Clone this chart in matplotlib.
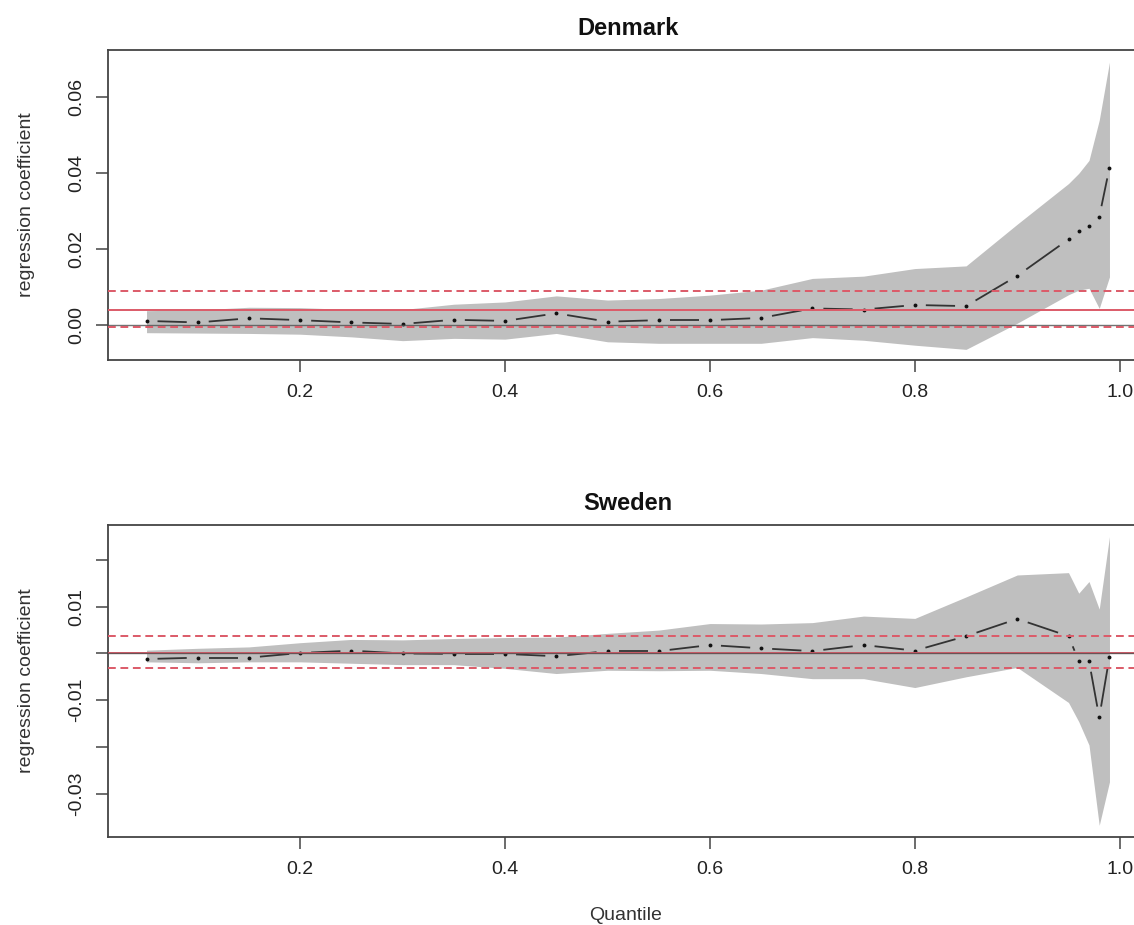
import matplotlib
matplotlib.use('Agg')
import matplotlib.pyplot as plt
import numpy as np

plt.rcParams['font.family'] = ['Liberation Sans', 'DejaVu Sans']

# quantiles used in both panels
taus = [0.05, 0.10, 0.15, 0.20, 0.25, 0.30, 0.35, 0.40, 0.45, 0.50, 0.55, 0.60,
        0.65, 0.70, 0.75, 0.80, 0.85, 0.90, 0.95, 0.96, 0.97, 0.98, 0.99]

# Denmark: quantile coefficients and confidence band
dk_coef = [0.0011, 0.0007, 0.0018, 0.0013, 0.0007, 0.0003, 0.0014, 0.0011, 0.0031,
           0.0009, 0.0013, 0.0013, 0.0019, 0.0044, 0.0041, 0.0053, 0.0050, 0.0130,
           0.0226, 0.0247, 0.0260, 0.0285, 0.0415]
dk_upper = [0.0038, 0.0040, 0.0047, 0.0046, 0.0041, 0.0041, 0.0055, 0.0061, 0.0077,
            0.0066, 0.0070, 0.0079, 0.0092, 0.0123, 0.0129, 0.0149, 0.0156, 0.0266,
            0.0373, 0.0400, 0.0434, 0.0540, 0.0693]
dk_lower = [-0.0020, -0.0021, -0.0022, -0.0024, -0.0031, -0.0041, -0.0035, -0.0037,
            -0.0022, -0.0044, -0.0048, -0.0048, -0.0048, -0.0033, -0.0040, -0.0053,
            -0.0064, 0.0005, 0.0080, 0.0092, 0.0097, 0.0044, 0.0127]
dk_ols = 0.0041
dk_ols_ci = [-0.0004, 0.0090]

# Sweden
se_coef = [-0.0012, -0.0009, -0.0009, 0.0001, 0.0006, 0.0000, -0.0001, -0.0001, -0.0006,
           0.0005, 0.0005, 0.0018, 0.0011, 0.0005, 0.0018, 0.0006, 0.0037, 0.0074,
           0.0037, -0.0016, -0.0016, -0.0137, -0.0007]
se_upper = [0.0007, 0.0011, 0.0014, 0.0023, 0.0030, 0.0029, 0.0032, 0.0034, 0.0035,
            0.0043, 0.0050, 0.0064, 0.0063, 0.0066, 0.0080, 0.0075, 0.0121, 0.0168,
            0.0173, 0.0129, 0.0154, 0.0095, 0.0250]
se_lower = [-0.0018, -0.0020, -0.0018, -0.0018, -0.0021, -0.0024, -0.0024, -0.0032,
            -0.0043, -0.0036, -0.0037, -0.0036, -0.0043, -0.0054, -0.0054, -0.0073,
            -0.0050, -0.0030, -0.0105, -0.0146, -0.0196, -0.0368, -0.0275]
se_ols = 0.0002
se_ols_ci = [-0.0032, 0.0038]

x_ticks = [0.2, 0.4, 0.6, 0.8, 1.0]
x_labels = ['0.2', '0.4', '0.6', '0.8', '1.0']
dk_yticks = [0.00, 0.02, 0.04, 0.06]
dk_ylabels = ['0.00', '0.02', '0.04', '0.06']
se_yticks = [-0.03, -0.02, -0.01, 0.00, 0.01, 0.02]
se_ylabels = ['-0.03', '', '-0.01', '', '0.01', '']

W, H = 1134, 925
RED = '#dc5a68'
FRAME = '#444444'

fig = plt.figure(figsize=(W / 100, H / 100), dpi=100)


def b_line(ax, x, y, gap=11):
    # R type="b": segments stop short of each point
    pts = ax.transData.transform(np.column_stack([x, y]))
    inv = ax.transData.inverted()
    for p0, p1 in zip(pts[:-1], pts[1:]):
        d = p1 - p0
        L = np.hypot(d[0], d[1])
        if L <= 2 * gap + 1:
            continue
        u = d / L
        a = inv.transform(p0 + u * gap)
        b = inv.transform(p1 - u * gap)
        ax.plot([a[0], b[0]], [a[1], b[1]], color='#333333', lw=1.3,
                solid_capstyle='butt', zorder=3)
    ax.plot(x, y, 'o', ms=2.8, color='#111111', mec='none', zorder=3)


def panel(top, bottom, title, coef, lower, upper, ols, ols_ci, ylim, yticks, ylabels):
    ax = fig.add_axes([108 / W, 1 - bottom / H, 1040 / W, (bottom - top) / H])
    ax.set_xlim(0.0124, 1.0276)
    ax.set_ylim(*ylim)
    ax.fill_between(taus, lower, upper, color='#bfbfbf', lw=0, zorder=1)
    b_line(ax, taus, coef)
    ax.axhline(ols, color=RED, lw=1.4, zorder=4)
    ax.axhline(0, color='#505050', lw=1.0, alpha=0.8, zorder=5)
    for v in ols_ci:
        ax.axhline(v, color=RED, lw=1.4, ls=(0, (4, 2.4)), zorder=6)
    ax.set_xticks(x_ticks, x_labels)
    ax.set_yticks(yticks, ylabels)
    ax.tick_params(axis='both', direction='out', length=8.6, width=1.1, color=FRAME,
                   labelsize=14, labelcolor='#222222')
    ax.tick_params(axis='x', pad=9)
    ax.tick_params(axis='y', pad=8, labelrotation=90)
    for t in ax.get_yticklabels():
        t.set_va('center')
    for s in ax.spines.values():
        s.set_color(FRAME)
        s.set_linewidth(1.3)
    ax.set_title(title, fontsize=17, fontweight='bold', pad=10.5, color='#111111')
    fig.text(27 / W, 1 - (top + bottom) / 2 / H, 'regression coefficient', rotation=90,
             ha='center', va='center', fontsize=14, color='#333333')
    return ax


panel(50, 360, 'Denmark', dk_coef, dk_lower, dk_upper, dk_ols, dk_ols_ci,
      (-0.0092, 0.0725), dk_yticks, dk_ylabels)
panel(525, 837, 'Sweden', se_coef, se_lower, se_upper, se_ols, se_ols_ci,
      (-0.0393, 0.0275), se_yticks, se_ylabels)

fig.text(626 / W, 1 - 916 / H, 'Quantile', ha='center', va='center', fontsize=14,
         color='#333333')

fig.savefig('out.png', dpi=100)
